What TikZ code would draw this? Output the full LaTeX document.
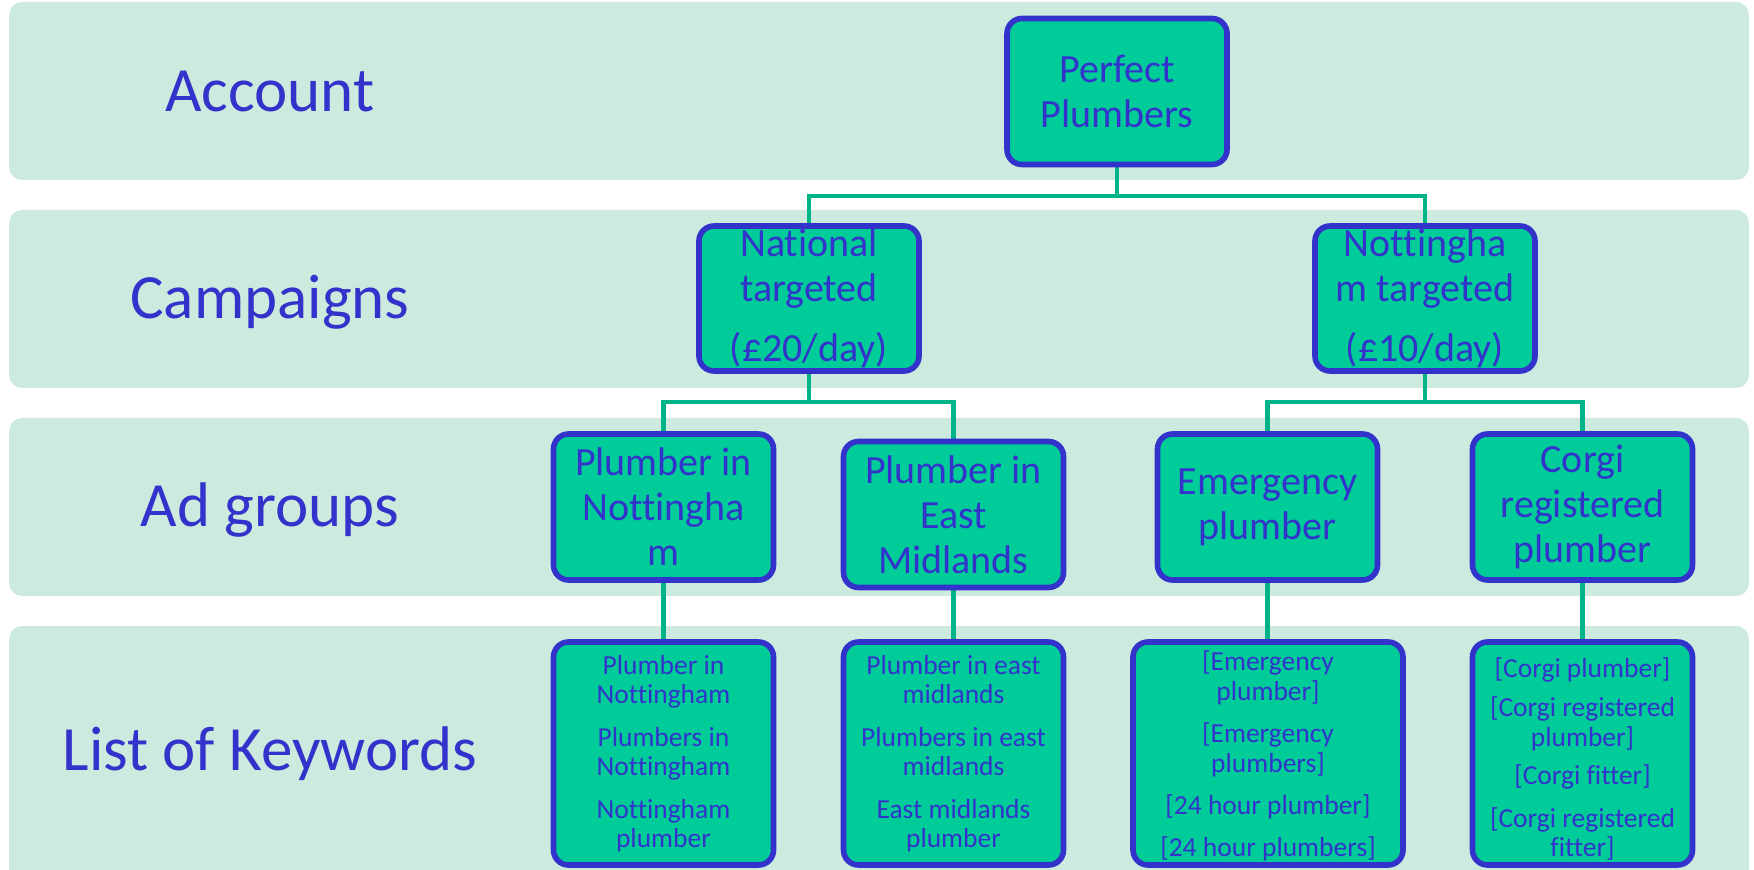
\documentclass[tikz,border=0pt]{standalone}
\usepackage{fontspec}
\setmainfont{Carlito}[Ligatures=NoCommon]
\usetikzlibrary{backgrounds}
\definecolor{bandc}{RGB}{205,234,222}
\definecolor{boxc}{RGB}{0,204,153}
\definecolor{bluec}{RGB}{51,51,204}
\definecolor{connc}{RGB}{0,179,136}
\begin{document}
\begin{tikzpicture}[x=0.5pt,y=-0.5pt,
 band/.style={fill=bandc, rounded corners=6.5pt},
 lbl/.style={text=bluec, font=\fontsize{31.5}{36}\selectfont, anchor=base, inner sep=0pt},
 box/.style={draw=bluec, fill=boxc, line width=2.8pt, rounded corners=7.5pt, text=bluec, align=center, inner sep=0pt, minimum width=110pt, font=\fontsize{20}{22.5}\selectfont},
 kbox/.style={box, minimum height=111.5pt, font=\fontsize{13.75}{14.75}\selectfont},
 conn/.style={draw=connc, line width=2.4pt}]
\useasboundingbox (0,0) rectangle (1754,870);
\clip (0,0) rectangle (1754,870);

% labels
\node[lbl] (lacc) at (270,112) {Account};
\node[lbl] (lcam) at (270,319) {Campaigns};
\node[lbl] (lad) at (270,527) {Ad groups};
\node[lbl] (lkw) at (270,770) {List of Keywords};

% nodes
\node[box, minimum height=73pt] (pp) at (1117,91.5) {Perfect\\Plumbers};
\node[box, minimum height=72.5pt] (nat) at (809,298.5) {National\\targeted\\[7.5pt](£20/day)};
\node[box, minimum height=72.5pt] (nt) at (1425,298.5) {Nottingha\\m targeted\\[7.5pt](£10/day)};

\node[box, minimum height=73pt] (ag1) at (663.5,507) {Plumber in\\Nottingha\\m};
\node[box, minimum height=73pt] (ag2) at (953.5,514.5) {Plumber in\\East\\Midlands};
\node[box, minimum height=73pt] (ag3) at (1267.5,507) {Emergency\\plumber};
\node[box, minimum height=73pt] (ag4) at (1582.5,507) {Corgi\\registered\\plumber};

\node[kbox] (kw1) at (663.5,753.5) {Plumber in\\Nottingham\\[6.5pt]Plumbers in\\Nottingham\\[6.5pt]Nottingham\\plumber};
\node[kbox] (kw2) at (953.5,753.5) {Plumber in east\\midlands\\[6.5pt]Plumbers in east\\midlands\\[6.5pt]East midlands\\plumber};
\node[kbox, minimum width=135pt] (kw3) at (1268,753.5) {\rule{0pt}{12pt}[Emergency\\plumber]\\[6.5pt][Emergency\\plumbers]\\[6.5pt][24 hour plumber]\\[6pt][24 hour plumbers]};
\node[kbox] (kw4) at (1582.5,753.5) {\rule{0pt}{15.5pt}[Corgi plumber]\\[5pt][Corgi registered\\plumber]\\[4.5pt][Corgi fitter]\\[6.5pt][Corgi registered\\fitter]};

\coordinate (j1) at (1117,196);
\coordinate (j2) at (809,402);
\coordinate (j3) at (1425,402);

\begin{pgfonlayer}{background}
\fill[band] (9,2) rectangle (1749,180);
\fill[band] (9,210) rectangle (1749,388);
\fill[band] (9,418) rectangle (1749,596);
\fill[band] (9,626) rectangle (1749,900);

\draw[conn] (pp.south) -- (j1);
\draw[conn] (j1) -| (nat.north);
\draw[conn] (j1) -| (nt.north);
\draw[conn] (nat.south) -- (j2);
\draw[conn] (j2) -| (ag1.north);
\draw[conn] (j2) -| (ag2.north);
\draw[conn] (nt.south) -- (j3);
\draw[conn] (j3) -| (ag3.north);
\draw[conn] (j3) -| (ag4.north);
\draw[conn] (ag1.south) -- (kw1.north);
\draw[conn] (ag2.south) -- (kw2.north);
\draw[conn] (ag3.south) -- (ag3.south |- kw3.north);
\draw[conn] (ag4.south) -- (kw4.north);
\end{pgfonlayer}
\end{tikzpicture}
\end{document}
